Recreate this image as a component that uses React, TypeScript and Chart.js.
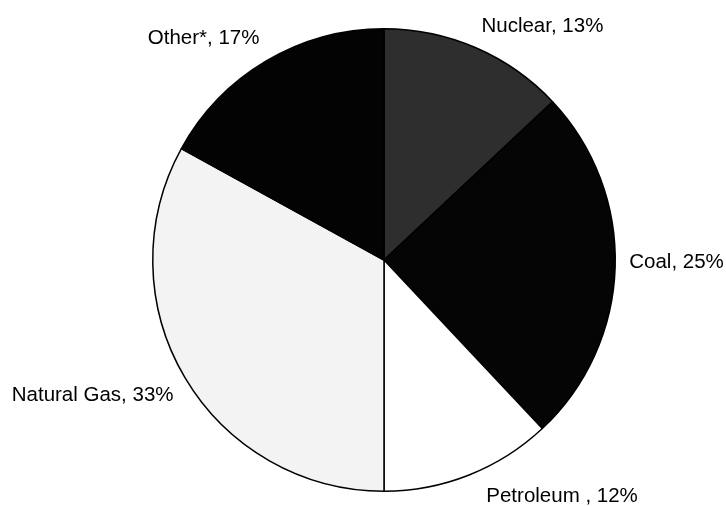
import React, { useEffect, useRef } from "react";
import { Chart, registerables } from "chart.js";

Chart.register(...registerables);

const categories = ["Nuclear", "Coal", "Petroleum ", "Natural Gas", "Other*"];
const shares = [13, 25, 12, 33, 17];
const sliceColors = ["#2e2e2e", "#050505", "#ffffff", "#f3f3f3", "#030303"];
// label placement offsets relative to pie centre, in units of pie radius
const labelDX = [0.685, 1.265, 0.77, -1.26, -0.78];
const labelDY = [-1.01, 0.01, 1.02, 0.585, -0.96];

const labelPlugin = {
  id: "sliceLabels",
  afterDraw(chart: any) {
    const meta = chart.getDatasetMeta(0);
    const ctx = chart.ctx;
    ctx.save();
    ctx.font = "20.5px 'Liberation Sans', Arial, sans-serif";
    ctx.fillStyle = "#000";
    ctx.textAlign = "center";
    ctx.textBaseline = "middle";
    meta.data.forEach((arc: any, i: number) => {
      const r = arc.outerRadius;
      const text = `${categories[i]}, ${shares[i]}%`;
      ctx.fillText(text, arc.x + labelDX[i] * r, arc.y + labelDY[i] * r);
    });
    ctx.restore();
  },
};

export default function App() {
  const ref = useRef<HTMLCanvasElement>(null);
  useEffect(() => {
    document.body.style.margin = "0";
    const chart = new Chart(ref.current!, {
      type: "pie",
      data: {
        labels: categories,
        datasets: [
          {
            data: shares,
            backgroundColor: sliceColors,
            borderColor: "#000",
            borderWidth: 1.5,
          },
        ],
      },
      options: {
        animation: false,
        responsive: false,
        layout: { padding: { left: 152, right: 110, top: 28, bottom: 14 } },
        plugins: { legend: { display: false }, tooltip: { enabled: false } },
      },
      plugins: [labelPlugin],
    });
    return () => chart.destroy();
  }, []);
  return (
    <div style={{ position: "absolute", left: 0, top: 0, width: 726, height: 506, background: "#fff" }}>
      <canvas ref={ref} width={726} height={506} />
    </div>
  );
}
